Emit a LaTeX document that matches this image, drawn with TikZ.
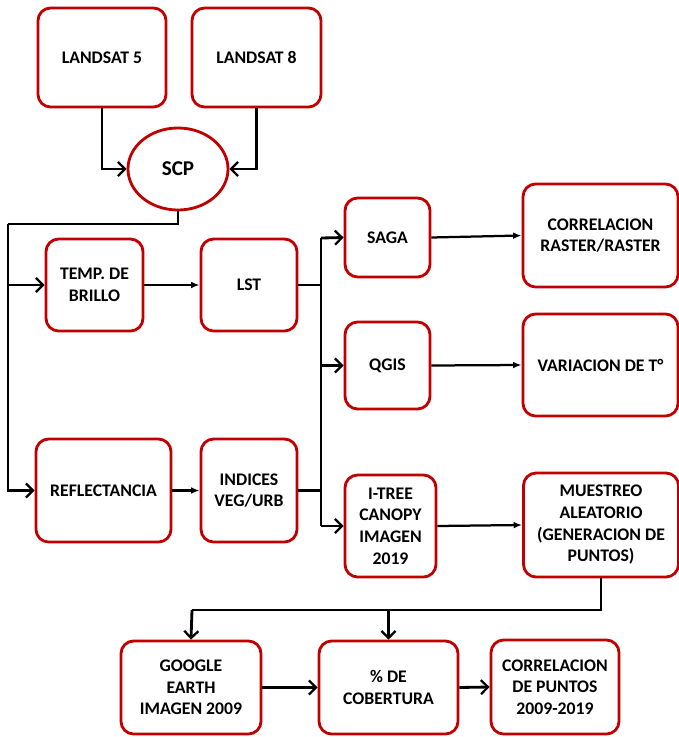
\documentclass[tikz,border=0pt]{standalone}
\usepackage{fontspec}
\setmainfont{Carlito}
\usetikzlibrary{arrows.meta,shapes.geometric}

\definecolor{boxred}{RGB}{192,0,0}

\begin{document}
\begin{tikzpicture}[x=0.025cm,y=-0.025cm,
  box/.style 2 args={draw=boxred,line width=2pt,rounded corners=9pt,fill=white,
    minimum width=#1,minimum height=#2,inner sep=0pt,align=center,
    font=\fontsize{12.6}{15.4}\selectfont\bfseries},
  line/.style={line width=2pt},
  arr/.style={line width=2pt,-{Straight Barb[length=5pt,width=10pt,line width=1.6pt]}},
  arrs/.style={line width=1.6pt,-{Latex[length=6pt,width=4.8pt]}}]

\useasboundingbox (0,0) rectangle (678,737);

% sources
\node[box={3.2cm}{2.475cm}] (l5) at (102,57.5) {LANDSAT 5};
\node[box={3.225cm}{2.475cm}] (l8) at (256.5,57.5) {LANDSAT 8};
\node[box={2.5cm}{2.05cm},ellipse,rounded corners=0pt] (scp) at (178,169) {\fontsize{15}{17}\selectfont SCP};

% processing
\node[box={2.425cm}{2.3cm}] (temp) at (94.5,285) {TEMP. DE\\BRILLO};
\node[box={2.4cm}{2.3cm}] (lst) at (249,285) {LST};
\node[box={3.375cm}{2.575cm}] (refl) at (103.5,490.5) {REFLECTANCIA};
\node[box={2.4cm}{2.575cm}] (indices) at (249,490.5) {INDICES\\VEG/URB};

% tools
\node[box={2.125cm}{1.975cm}] (saga) at (387.5,237.5) {SAGA};
\node[box={2.125cm}{2.175cm}] (qgis) at (387.5,365.5) {QGIS};
\node[box={2.275cm}{2.55cm}] (itree) at (390.5,526) {I-TREE\\CANOPY\\IMAGEN\\2019};

% results
\node[box={3.875cm}{2.575cm}] (corr1) at (600.5,235.5) {CORRELACION\\RASTER/RASTER};
\node[box={3.875cm}{2.55cm}] (var) at (600.5,365) {VARIACION DE T°};
\node[box={3.875cm}{2.6cm}] (muestreo) at (601,525) {MUESTREO\\ALEATORIO\\(GENERACION DE\\PUNTOS)};

\node[box={3.5cm}{2.325cm}] (google) at (191,687.5) {GOOGLE\\EARTH\\IMAGEN 2009};
\node[box={3.475cm}{2.325cm}] (cobertura) at (388.5,687.5) {\% DE\\COBERTURA};
\node[box={3.2cm}{2.35cm}] (corr2) at (555,687) {CORRELACION\\DE PUNTOS\\2009-2019};

% bus points
\coordinate (bus1) at (8,224);
\coordinate (bus2) at (321,238);
\coordinate (bus3) at (192,610);

\draw[arr] (l5.south) |- (scp.west);
\draw[arr] (l8.south) |- (scp.east);

\draw[line] (scp.south) |- (bus1);
\draw[arr] (bus1) |- (refl.west);
\draw[arr] (bus1 |- temp.west) -- (temp.west);

\draw[arrs] (temp.east) -- (lst.west);
\draw[arrs] (refl.east) -- (indices.west);

\draw[line] (lst.east) -| (bus2);
\draw[line] (indices.east) -- (indices.east -| bus2);
\draw[line] (bus2) -- (bus2 |- itree.west);
\draw[arr] (bus2) -- (saga.west);
\draw[arr] (bus2 |- qgis.west) -- (qgis.west);
\draw[arr] (bus2 |- itree.west) -- (itree.west);

\draw[arrs] (saga.east) -- (corr1.west);
\draw[arrs] (qgis.east) -- (var.west);
\draw[arrs] (itree.east) -- (muestreo.west);

\draw[line] (muestreo.south) |- (bus3);
\draw[arr] (bus3) -- (google.north);
\draw[arr] (bus3 -| cobertura.north) -- (cobertura.north);

\draw[arr] (google.east) -- (cobertura.west);
\draw[arr] (cobertura.east) -- (corr2.west);

\end{tikzpicture}
\end{document}
